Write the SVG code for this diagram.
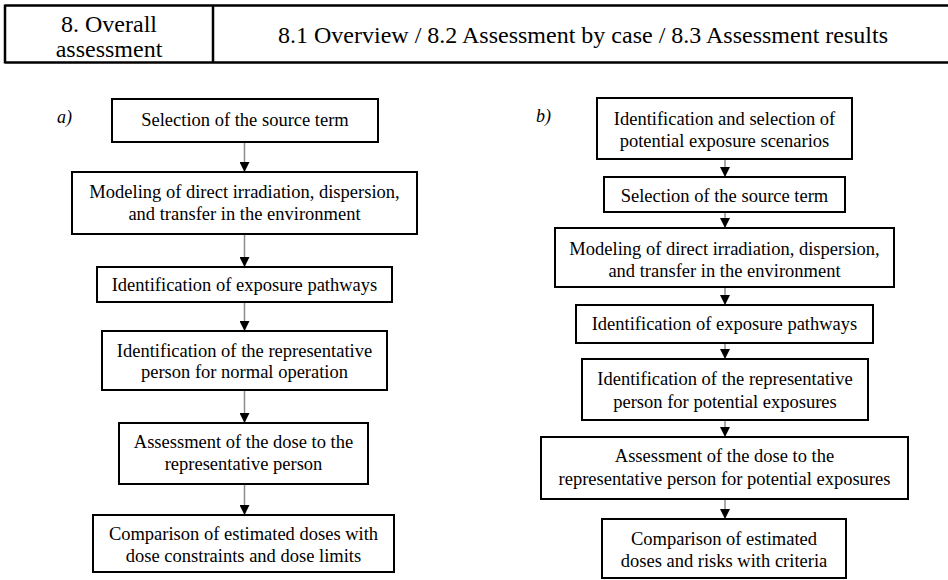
<svg xmlns="http://www.w3.org/2000/svg" width="948" height="580" viewBox="0 0 948 580">
<style>
text{font-family:"Liberation Serif","Times New Roman",serif;fill:#000}
.h{font-size:24px}
.t{font-size:18.5px;text-anchor:middle}
.lab{font-size:18px;font-style:italic}
.box{fill:#fff;stroke:#000;stroke-width:2}
.hd{stroke:#000;stroke-width:2.5;fill:none}
.conn{stroke:#8c8c8c;stroke-width:1.5;fill:none;marker-end:url(#ah)}
</style>
<defs>
<marker id="ah" viewBox="0 0 10 10" refX="10" refY="5" markerWidth="10" markerHeight="10" markerUnits="userSpaceOnUse" orient="auto">
<path d="M0,0 L10,5 L0,10 z" fill="#000"/>
</marker>
</defs>
<rect width="948" height="580" fill="#fff"/>
<g id="header">
<path class="hd" d="M5,5.5 H948 M5,62.5 H948 M5,4.5 V63.5 M213,4.5 V63.5"/>
<text class="h" x="109" y="31.5" text-anchor="middle">8. Overall</text>
<text class="h" x="109" y="56.5" text-anchor="middle">assessment</text>
<text class="h" x="583" y="42.5" text-anchor="middle">8.1 Overview / 8.2 Assessment by case / 8.3 Assessment results</text>
</g>
<text class="lab" x="57" y="123">a)</text>
<text class="lab" x="536" y="122">b)</text>
<g id="connectors">
<path class="conn" d="M244.5,143 V172"/>
<path class="conn" d="M244.5,235 V267"/>
<path class="conn" d="M244.5,303 V331"/>
<path class="conn" d="M244.5,391 V423"/>
<path class="conn" d="M244.5,485 V515"/>
<path class="conn" d="M725,160 V177"/>
<path class="conn" d="M725,213 V228"/>
<path class="conn" d="M725,288 V305"/>
<path class="conn" d="M725,344 V359"/>
<path class="conn" d="M725,421 V437"/>
<path class="conn" d="M725,500 V519"/>
</g>
<g id="a1"><rect class="box" x="112" y="99" width="266" height="43"/><text class="t" x="245" y="126">Selection of the source term</text></g>
<g id="a2"><rect class="box" x="72" y="172" width="345" height="62"/><text class="t" x="244.5" y="198">Modeling of direct irradiation, dispersion,</text><text class="t" x="244.5" y="219.5">and transfer in the environment</text></g>
<g id="a3"><rect class="box" x="97" y="267" width="295" height="35"/><text class="t" x="244.5" y="290.5">Identification of exposure pathways</text></g>
<g id="a4"><rect class="box" x="102" y="331" width="285" height="59"/><text class="t" x="244.5" y="356.5">Identification of the representative</text><text class="t" x="244.5" y="378">person for normal operation</text></g>
<g id="a5"><rect class="box" x="119" y="423" width="249" height="61"/><text class="t" x="243.5" y="448">Assessment of the dose to the</text><text class="t" x="243.5" y="470">representative person</text></g>
<g id="a6"><rect class="box" x="93" y="515" width="301" height="57"/><text class="t" x="243.5" y="540">Comparison of estimated doses with</text><text class="t" x="243.5" y="561.5">dose constraints and dose limits</text></g>
<g id="b1"><rect class="box" x="597" y="98" width="255" height="61"/><text class="t" x="724.5" y="125">Identification and selection of</text><text class="t" x="724.5" y="147">potential exposure scenarios</text></g>
<g id="b2"><rect class="box" x="604" y="177" width="241" height="35"/><text class="t" x="724.5" y="201.5">Selection of the source term</text></g>
<g id="b3"><rect class="box" x="555" y="228" width="339" height="59"/><text class="t" x="724.5" y="255">Modeling of direct irradiation, dispersion,</text><text class="t" x="724.5" y="277">and transfer in the environment</text></g>
<g id="b4"><rect class="box" x="576" y="305" width="297" height="38"/><text class="t" x="724.5" y="330">Identification of exposure pathways</text></g>
<g id="b5"><rect class="box" x="582" y="359" width="286" height="61"/><text class="t" x="725" y="385">Identification of the representative</text><text class="t" x="725" y="408">person for potential exposures</text></g>
<g id="b6"><rect class="box" x="541" y="437" width="367" height="62"/><text class="t" x="724.5" y="462">Assessment of the dose to the</text><text class="t" x="724.5" y="485">representative person for potential exposures</text></g>
<g id="b7"><rect class="box" x="602" y="519" width="244" height="59"/><text class="t" x="724" y="545">Comparison of estimated</text><text class="t" x="724" y="567">doses and risks with criteria</text></g>
</svg>
